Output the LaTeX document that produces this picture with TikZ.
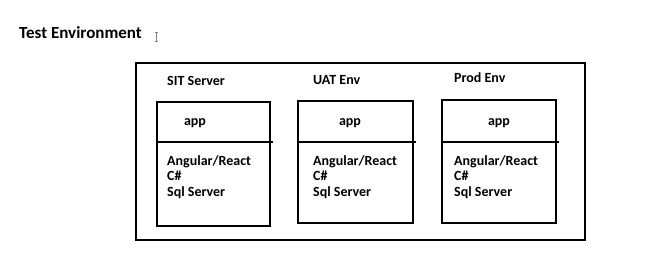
\documentclass[tikz,border=0pt]{standalone}
\usepackage{fontspec}
\setmainfont{Carlito}
\usetikzlibrary{positioning}

\tikzset{
  heading/.style={font=\bfseries\fontsize{17}{20}\selectfont, inner sep=0pt, anchor=west},
  envname/.style={font=\bfseries\fontsize{14}{16}\selectfont, inner sep=0pt, anchor=west},
  stack/.style={font=\bfseries\fontsize{14}{15.5}\selectfont, inner sep=0pt, anchor=west, align=left},
  frame/.style={line width=1.4pt},
}

\begin{document}
\begin{tikzpicture}[x=1pt,y=-1pt]
  \useasboundingbox (0,0) rectangle (667,265);

  \node[heading] (title) at (19,33) {Test Environment};
  % text cursor next to the heading
  \draw[gray, line width=0.6pt] (156,32) -- (156,41) (154.5,32) -- (157.5,32) (154.5,41) -- (157.5,41);

  % outer frame
  \draw[frame] (136,63) rectangle (585,240);

  % one server box per environment: name/label/left/top/right/bottom/app x/text x/label y
  \foreach \n/\lbl/\xl/\yt/\xr/\yb/\xa/\xs/\yl in {
      sit/SIT Server/157/102/270/226/195/167/81,
      uat/UAT Env/298/101/413/223/350/313/80,
      prod/Prod Env/442/100/556/223/499/454/78} {
    \node[envname] (\n-name) at (\xs,\yl) {\lbl};
    \draw[frame] (\xl,\yt) rectangle (\xr,\yb);
    % divider sticks out a little on the right
    \draw[frame] (\xl,142) -- (\xr+3,142);
    \node[envname, anchor=center] (\n-app) at (\xa,123) {app};
    \node[stack] (\n-stack) at (\xs,177) {Angular/React\\C\#\\Sql Server};
  }
\end{tikzpicture}
\end{document}
